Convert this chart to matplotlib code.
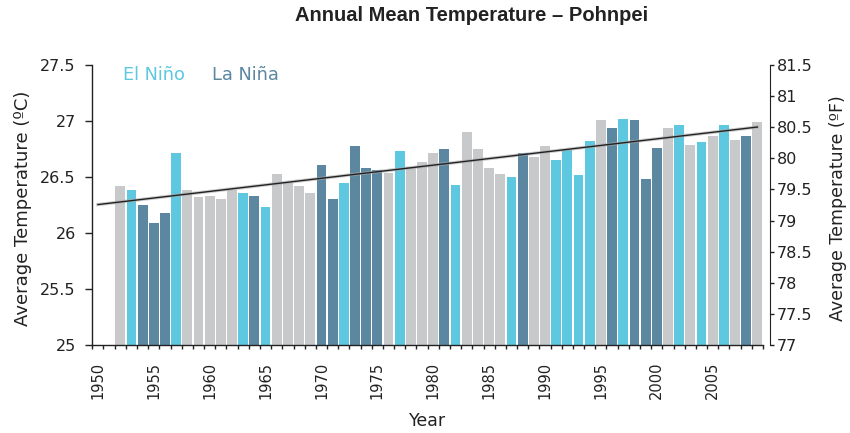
import matplotlib
matplotlib.use('Agg')
import matplotlib.pyplot as plt
import numpy as np
from matplotlib.ticker import FuncFormatter, FixedLocator

plt.rcParams['font.family'] = ['DejaVu Sans']

# annual mean temperature (deg C), 1952-2009
years = list(range(1952, 2010))
temps = [26.42, 26.38, 26.25, 26.09, 26.18, 26.71, 26.38, 26.32, 26.33, 26.30,
         26.38, 26.36, 26.33, 26.23, 26.53, 26.45, 26.42, 26.36, 26.61, 26.30,
         26.45, 26.78, 26.58, 26.56, 26.54, 26.73, 26.59, 26.63, 26.71, 26.75,
         26.43, 26.90, 26.75, 26.58, 26.53, 26.50, 26.71, 26.68, 26.78, 26.65,
         26.74, 26.52, 26.82, 27.01, 26.94, 27.02, 27.01, 26.48, 26.76, 26.94,
         26.96, 26.79, 26.81, 26.87, 26.96, 26.83, 26.87, 26.99]
# n = neutral, e = El Nino, l = La Nina
phase = list('nelllennnn' 'nelennnnll' 'elllnennnl'
             'ennnnelnne' 'eeenlellln' 'enenenln')

colors = {'n': '#c8c9cb', 'e': '#5ec8e0', 'l': '#5b87a1'}
ink = '#222222'

fig = plt.figure(figsize=(8.5, 4.33), dpi=100)
ax = fig.add_axes([0.1086, 0.203, 0.789, 0.647])

ax.bar(years, temps, width=0.88, color=[colors[p] for p in phase], zorder=2)

# linear trend
coef = np.polyfit(years, temps, 1)
tx = np.array([1950, 2009])
ax.plot(tx, np.polyval(coef, tx), color='#aaaaaa', lw=2.4, zorder=3, alpha=0.6)
ax.plot(tx, np.polyval(coef, tx), color=ink, lw=1.0, zorder=4)

ax.set_xlim(1949.5, 2009.5)
ax.set_ylim(25, 27.5)

ax.spines['top'].set_visible(False)
ax.spines['right'].set_visible(False)
for s in ['left', 'bottom']:
    ax.spines[s].set_linewidth(1.0)
    ax.spines[s].set_color(ink)

ax.set_yticks([25, 25.5, 26, 26.5, 27, 27.5])
ax.yaxis.set_major_formatter(FuncFormatter(lambda v, p: f'{v:g}'))
ax.tick_params(axis='y', length=5, width=1, colors=ink, labelsize=11.5, pad=7)

label_years = list(range(1950, 2010, 5))
ax.set_xticks(label_years)
ax.set_xticklabels([str(y) for y in label_years], rotation=90, va='top')
ax.xaxis.set_minor_locator(FixedLocator(np.arange(1949.5, 2010, 1)))
ax.tick_params(axis='x', which='major', length=0, labelsize=10.5, pad=12, colors=ink)
ax.tick_params(axis='x', which='minor', length=3, width=1, color=ink)

ax.set_ylabel('Average Temperature (ºC)', fontsize=13, color=ink)
ax.yaxis.set_label_coords(-0.09, 0.49)
ax.set_xlabel('Year', fontsize=12.5, color=ink)
ax.xaxis.set_label_coords(0.5, -0.24)

# right axis in Fahrenheit
ax2 = ax.twinx()
ax2.set_ylim(25 * 1.8 + 32, 27.5 * 1.8 + 32)
ax2.set_yticks(np.arange(77, 81.6, 0.5))
ax2.yaxis.set_major_formatter(FuncFormatter(lambda v, p: f'{v:g}'))
for s in ['top', 'left', 'bottom']:
    ax2.spines[s].set_visible(False)
ax2.spines['right'].set_position(('outward', 5))
ax2.spines['right'].set_color(ink)
ax2.tick_params(axis='y', length=3, width=1, colors=ink, labelsize=11.5, pad=2)
ax2.set_ylabel('Average Temperature (ºF)', fontsize=12.5, color=ink)
ax2.yaxis.set_label_coords(1.099, 0.49)

ax.text(0.046, 0.964, 'El Niño', transform=ax.transAxes, color=colors['e'],
        fontsize=12.8, va='center', ha='left')
ax.text(0.178, 0.964, 'La Niña', transform=ax.transAxes, color=colors['l'],
        fontsize=12.8, va='center', ha='left')

fig.text(0.555, 0.965, 'Annual Mean Temperature – Pohnpei', fontsize=14.5,
         fontweight='bold', family='Liberation Sans', color=ink,
         ha='center', va='center')

fig.savefig('out.png', dpi=100)
